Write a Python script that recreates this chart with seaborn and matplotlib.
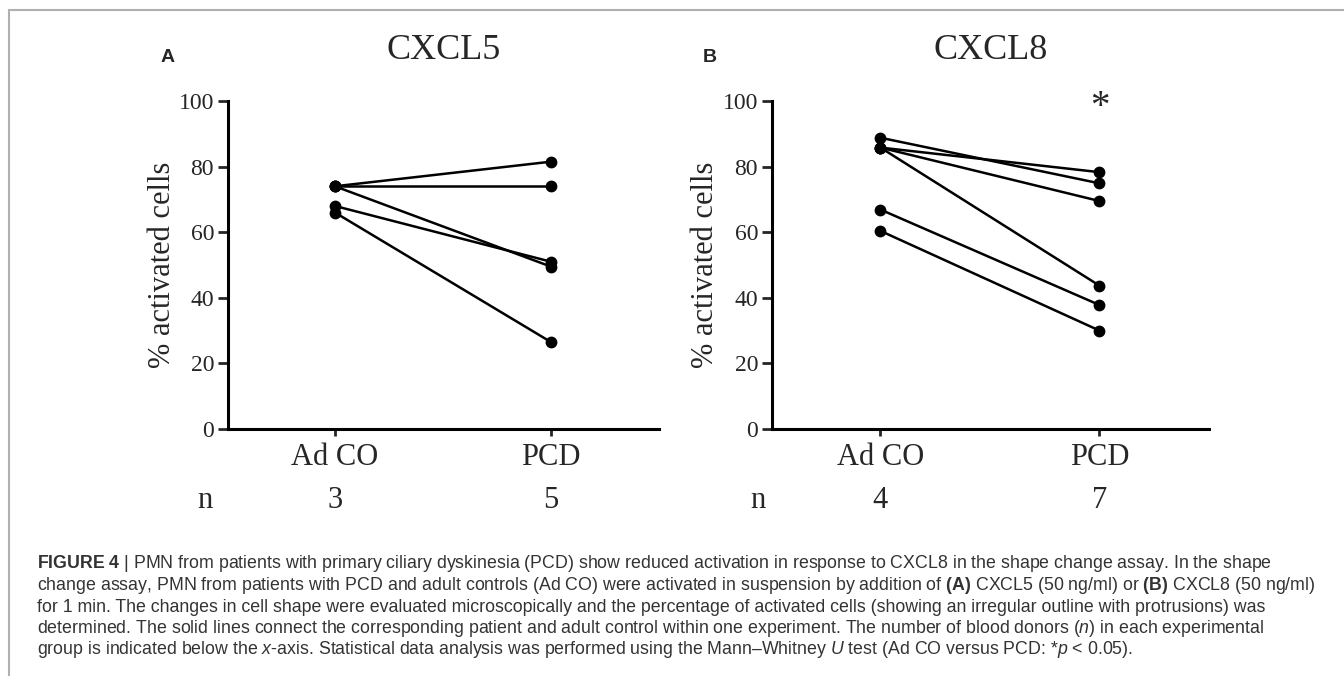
import pandas as pd
import seaborn as sns
import matplotlib.pyplot as plt
from matplotlib.lines import Line2D

# Data (one pair of values per experiment)

groups = ['Ad CO', 'PCD']

cxcl5_adco = [74, 74, 74, 68, 66]
cxcl5_pcd = [81.5, 74, 49.5, 51, 26.5]
cxcl5_n = [3, 5]

cxcl8_adco = [88.8, 85.8, 85.8, 85.8, 66.9, 60.4]
cxcl8_pcd = [74.9, 78.3, 69.5, 43.7, 37.8, 30.0]
cxcl8_n = [4, 7]

caption_lines = [
    r"$\mathbf{FIGURE\ 4}$ | PMN from patients with primary ciliary dyskinesia (PCD) show reduced activation in response to CXCL8 in the shape change assay. In the shape",
    r"change assay, PMN from patients with PCD and adult controls (Ad CO) were activated in suspension by addition of $\mathbf{(A)}$ CXCL5 (50 ng/ml) or $\mathbf{(B)}$ CXCL8 (50 ng/ml)",
    r"for 1 min. The changes in cell shape were evaluated microscopically and the percentage of activated cells (showing an irregular outline with protrusions) was",
    r"determined. The solid lines connect the corresponding patient and adult control within one experiment. The number of blood donors ($\mathit{n}$) in each experimental",
    r"group is indicated below the $\mathit{x}$-axis. Statistical data analysis was performed using the Mann–Whitney $\mathit{U}$ test (Ad CO versus PCD: *$\mathit{p}$ < 0.05).",
]


def to_long(adco, pcd):
    rows = []
    for i, (a, p) in enumerate(zip(adco, pcd)):
        rows.append({'pair': i, 'group': 0, 'pct': a})
        rows.append({'pair': i, 'group': 1, 'pct': p})
    return pd.DataFrame(rows)


def draw_panel(ax, df, title, n_vals, n_x):
    sns.lineplot(data=df, x='group', y='pct', units='pair', estimator=None,
                 color='black', lw=1.8, marker='o', markersize=8.5,
                 markeredgewidth=0, ax=ax, legend=False)
    ax.set_xlim(-0.495, 1.5)
    ax.set_ylim(0, 100)
    ax.set_xticks([0, 1])
    ax.set_xticklabels(groups, fontsize=22)
    ax.set_yticks(range(0, 101, 20))
    ax.tick_params(axis='y', labelsize=17, length=7, width=2, pad=3)
    ax.tick_params(axis='x', length=5, width=2, pad=5)
    ax.set_xlabel('')
    ax.set_ylabel('% activated cells', fontsize=22)
    ax.yaxis.set_label_coords(-0.118, 0.5)
    sns.despine(ax=ax)
    for s in ['left', 'bottom']:
        ax.spines[s].set_linewidth(2.2)
        ax.spines[s].set_color('black')
    ax.text(0.5, 1.128, title, transform=ax.transAxes, ha='center',
            va='baseline', fontsize=26)
    # donor counts below the x-axis
    tr = ax.get_xaxis_transform()
    ax.text(n_x, -0.2165, 'n', transform=tr, ha='center', va='center', fontsize=22)
    for x, n in zip([0, 1], n_vals):
        ax.text(x, -0.2165, str(n), transform=tr, ha='center', va='center', fontsize=22)


sns.set_style('ticks')
plt.rcParams['font.family'] = ['Liberation Serif', 'DejaVu Serif']
plt.rcParams['mathtext.fontset'] = 'custom'
plt.rcParams['mathtext.rm'] = 'Liberation Sans'
plt.rcParams['mathtext.it'] = 'Liberation Sans:italic'
plt.rcParams['mathtext.bf'] = 'Liberation Sans:bold'

W, H = 1344, 676
fig = plt.figure(figsize=(W / 100, H / 100), dpi=100)

ax_a = fig.add_axes([228 / W, 1 - 429 / H, 431 / W, 328 / H])
ax_b = fig.add_axes([772 / W, 1 - 429 / H, 437 / W, 328 / H])

draw_panel(ax_a, to_long(cxcl5_adco, cxcl5_pcd), 'CXCL5', cxcl5_n, -0.60)
draw_panel(ax_b, to_long(cxcl8_adco, cxcl8_pcd), 'CXCL8', cxcl8_n, -0.56)

# significance marker
ax_b.text(1, 95, '*', ha='center', va='baseline', fontsize=28)

# panel letters
for x, letter in [(168, 'A'), (710, 'B')]:
    fig.text(x / W, 1 - 58 / H, letter, ha='center', va='center', fontsize=14,
             fontweight='bold', family='Liberation Sans')

# caption
for i, line in enumerate(caption_lines):
    fig.text(37 / W, 1 - (564 + i * 21.5) / H, line, ha='left', va='center',
             fontsize=12.8, color='#333333', family='Liberation Sans')

# grey frame around the figure
fig.add_artist(Line2D([9 / W, 9 / W], [1 - 10 / H, 0], transform=fig.transFigure,
                      color='#b0b0b0', lw=1.5))
fig.add_artist(Line2D([9 / W, 1], [1 - 10 / H, 1 - 10 / H], transform=fig.transFigure,
                      color='#b0b0b0', lw=1.5))

fig.savefig('out.png', dpi=100)
